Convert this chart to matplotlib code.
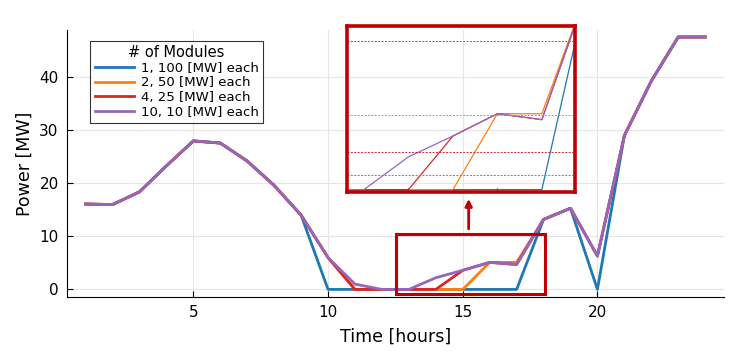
import matplotlib
matplotlib.use("Agg")
import matplotlib.pyplot as plt
from matplotlib.patches import Rectangle

# hourly output for each module configuration
hours = list(range(1, 25))
p_1x100 = [16.1, 16.0, 18.4, 23.3, 28.0, 27.6, 24.2, 19.6, 14.0, 0.0, 0.0, 0.0,
           0.0, 0.0, 0.0, 0.0, 0.0, 13.2, 15.3, 0.0, 29.0, 39.3, 47.6, 47.6]
p_2x50 = [16.1, 16.0, 18.4, 23.3, 28.0, 27.6, 24.2, 19.6, 14.0, 6.0, 0.0, 0.0,
          0.0, 0.0, 0.0, 5.1, 5.1, 13.2, 15.3, 6.3, 29.0, 39.3, 47.6, 47.6]
p_4x25 = [16.1, 16.0, 18.4, 23.3, 28.0, 27.6, 24.2, 19.6, 14.0, 6.0, 0.0, 0.0,
          0.0, 0.0, 3.6, 5.1, 4.7, 13.2, 15.3, 6.3, 29.0, 39.3, 47.6, 47.6]
p_10x10 = [16.1, 16.0, 18.4, 23.3, 28.0, 27.6, 24.2, 19.6, 14.0, 6.0, 1.0, 0.0,
           0.0, 2.2, 3.6, 5.1, 4.7, 13.2, 15.3, 6.3, 29.0, 39.3, 47.6, 47.6]
labels = ["1, 100 [MW] each", "2, 50 [MW] each", "4, 25 [MW] each", "10, 10 [MW] each"]
min_levels = [10.0, 5.0, 2.5, 1.0]   # dashed lines in the zoom box
colors = ["#1f77b4", "#ff7f0e", "#d62728", "#9467bd"]
series = [p_1x100, p_2x50, p_4x25, p_10x10]
frame_red = "#c00000"

fig = plt.figure(figsize=(7.48, 3.54), dpi=100)
ax = fig.add_axes([0.0896, 0.161, 0.878, 0.754])

for vals, lab, c in zip(series, labels, colors):
    ax.plot(hours, vals, color=c, linewidth=2, label=lab)

ax.set_xlim(0.31, 24.69)
ax.set_ylim(-1.43, 48.9)
ax.set_xticks([5, 10, 15, 20])
ax.set_yticks([0, 10, 20, 30, 40])
ax.tick_params(direction="in", length=4, labelsize=11, pad=6)
ax.grid(True, color="#e6e6e6", linewidth=0.8)
ax.set_axisbelow(True)
for s in ["top", "right"]:
    ax.spines[s].set_visible(False)
ax.set_xlabel("Time [hours]", fontsize=12.5, labelpad=5)
ax.set_ylabel("Power [MW]", fontsize=12.5, labelpad=4)

leg = ax.legend(title="# of Modules", loc="upper left", bbox_to_anchor=(0.025, 0.985),
                fontsize=9.5, title_fontsize=10.5, fancybox=False, edgecolor="black",
                handlelength=3.0, borderpad=0.35, labelspacing=0.12, handletextpad=0.5)
leg.get_frame().set_linewidth(0.8)

# zoom box on main axes
ax.add_patch(Rectangle((12.52, -0.94), 5.52, 11.3, fill=False, edgecolor=frame_red,
                       linewidth=2.2, zorder=5))
ax.annotate("", xy=(15.22, 17.6), xytext=(15.22, 10.9),
            arrowprops=dict(arrowstyle="-|>", color=frame_red, lw=2, mutation_scale=10))

# inset
ins = fig.add_axes([0.464, 0.458, 0.305, 0.469])
ins.patch.set_alpha(0)
for vals, c in zip(series, colors):
    ins.plot(hours, vals, color=c, linewidth=0.9)
for lvl, c in zip(min_levels, colors):
    ins.axhline(lvl, color=c, linewidth=0.7, linestyle=(0, (2, 1.5)))
ins.set_xlim(12.62, 17.75)
ins.set_ylim(-0.15, 11)
ins.set_xticks([14, 15, 16])
ins.set_yticks([])
ins.tick_params(direction="in", length=3, labelbottom=False)
for s in ins.spines.values():
    s.set_edgecolor(frame_red)
    s.set_linewidth(2.6)

fig.savefig("out.png", dpi=100)
